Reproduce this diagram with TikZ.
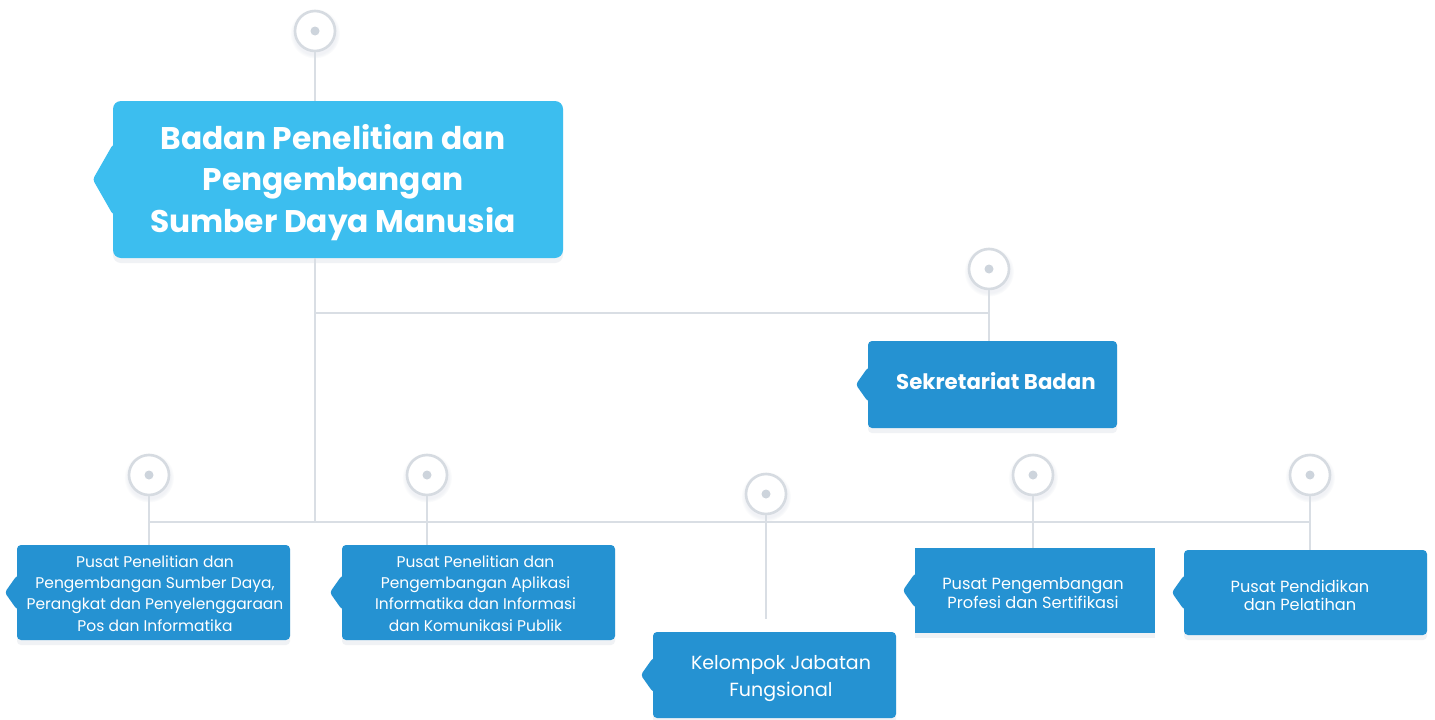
\documentclass[tikz,border=0pt]{standalone}
\usepackage{fontspec}
\setmainfont{Poppins}
\usetikzlibrary{shadows}
\definecolor{lightblue}{HTML}{3CBEEF}
\definecolor{darkblue}{HTML}{2592D2}
\definecolor{linec}{HTML}{D9DEE4}
\definecolor{ringc}{HTML}{D6DBE1}
\definecolor{dotc}{HTML}{CDD4DC}
\definecolor{shadc}{HTML}{8C9BB5}
\tikzset{
  conn/.style={draw=linec, line width=2.6pt},
  circ/.style={circle, minimum size=40pt, inner sep=0pt, fill=white, draw=ringc, line width=2.6pt,
     circular drop shadow={shadow xshift=0pt, shadow yshift=-2pt, shadow scale=1.25, opacity=0.12, fill=shadc}},
  boxbase/.style={rectangle, inner sep=0pt,
     drop shadow={shadow xshift=0pt, shadow yshift=-5pt, opacity=0.13, fill=shadc}},
  mainbox/.style={boxbase, fill=lightblue, rounded corners=8pt, minimum width=450pt, minimum height=157pt},
  sekbox/.style={boxbase, fill=darkblue, rounded corners=4pt, minimum width=249pt, minimum height=87pt},
  unitbox/.style={boxbase, fill=darkblue, rounded corners=4pt, minimum width=273pt, minimum height=95pt},
  boxtext/.style={text=white, align=center, inner sep=0pt},
  maintext/.style={boxtext, font=\bfseries\fontsize{31.3}{41.5}\selectfont},
  sektext/.style={boxtext, font=\bfseries\fontsize{21.3}{26}\selectfont},
  unittext/.style={boxtext, font=\fontsize{15.5}{21.3}\selectfont},
}
\newcommand{\notchat}[4]{% node, half height, depth, colour
  \fill[#4, rounded corners=3pt] ([xshift=3pt,yshift=#2pt]#1.west) -- ([yshift=#2pt]#1.west)
     -- ([xshift=-#3pt]#1.west) -- ([yshift=-#2pt]#1.west) -- ([xshift=3pt,yshift=-#2pt]#1.west) -- cycle;}
\begin{document}
\begin{tikzpicture}[x=1pt, y=-1pt]
\useasboundingbox (0,0) rectangle (1435,720);
\fill[white] (0,0) rectangle (1435,720);

% circles
\node[circ] (c0) at (315,31) {};
\node[circ] (c1) at (989,269) {};
\node[circ] (c2) at (149,475) {};
\node[circ] (c3) at (427,475) {};
\node[circ] (c4) at (766,494) {};
\node[circ] (c5) at (1033,475) {};
\node[circ] (c6) at (1310,475) {};

% boxes
\node[mainbox] (main) at (338,179.5) {};
\notchat{main}{35}{20}{lightblue}
\node[maintext] (main-t) at (333,182.5) {Badan Penelitian dan\\Pengembangan\\Sumber Daya Manusia};

\node[sekbox] (sek) at (992.5,384.5) {};
\notchat{sek}{17}{12}{darkblue}
\node[sektext] (sek-t) at (996,381) {Sekretariat Badan};

\node[unitbox] (u1) at (153.5,592.5) {};
\notchat{u1}{17}{12}{darkblue}
\node[unittext] (u1-t) at (155,593.5) {Pusat Penelitian dan\\Pengembangan Sumber Daya,\\Perangkat dan Penyelenggaraan\\Pos dan Informatika};

\node[unitbox] (u2) at (478.5,592.5) {};
\notchat{u2}{17}{12}{darkblue}
\node[unittext] (u2-t) at (475.5,593.5) {Pusat Penelitian dan\\Pengembangan Aplikasi\\Informatika dan Informasi\\dan Komunikasi Publik};

\node[unitbox, minimum width=243pt, minimum height=86pt] (u3) at (774.5,675) {};
\notchat{u3}{17}{12}{darkblue}
\node[unittext, font=\fontsize{19}{27}\selectfont] (u3-t) at (781,679) {Kelompok Jabatan\\Fungsional};

\node[unitbox, sharp corners, minimum width=240pt, minimum height=85pt] (u4) at (1035,590.5) {};
\notchat{u4}{17}{12}{darkblue}
\node[unittext, font=\fontsize{16.2}{19.5}\selectfont] (u4-t) at (1033,593) {Pusat Pengembangan\\Profesi dan Sertifikasi};

\node[unitbox, minimum width=243pt, minimum height=85pt] (u5) at (1305.5,592.5) {};
\notchat{u5}{17}{12}{darkblue}
\node[unittext, font=\fontsize{16.2}{18.5}\selectfont] (u5-t) at (1300,595.5) {Pusat Pendidikan\\dan Pelatihan};

% connectors
\coordinate (j1) at (315,313);
\coordinate (j0) at (315,522);
\coordinate (kend) at (766,619);
\draw[conn] (c0.south) -- (c0.south |- main.north);
\draw[conn] (c0 |- main.south) -- (j0);
\draw[conn] (j1) -- (j1 -| c1);
\draw[conn] (c1.south) -- (c1 |- sek.north);
\draw[conn] (c2 |- j0) -- (c6 |- j0);
\draw[conn] (c2.south) -- (c2 |- u1.north);
\draw[conn] (c3.south) -- (c3 |- u2.north);
\draw[conn] (c4.south) -- (kend);
\draw[conn] (c5.south) -- (c5 |- u4.north);
\draw[conn] (c6.south) -- (c6 |- u5.north);

% circle dots
\foreach \c in {c0,c1,c2,c3,c4,c5,c6} {\fill[dotc] (\c) circle (4.5pt);}
\end{tikzpicture}
\end{document}
